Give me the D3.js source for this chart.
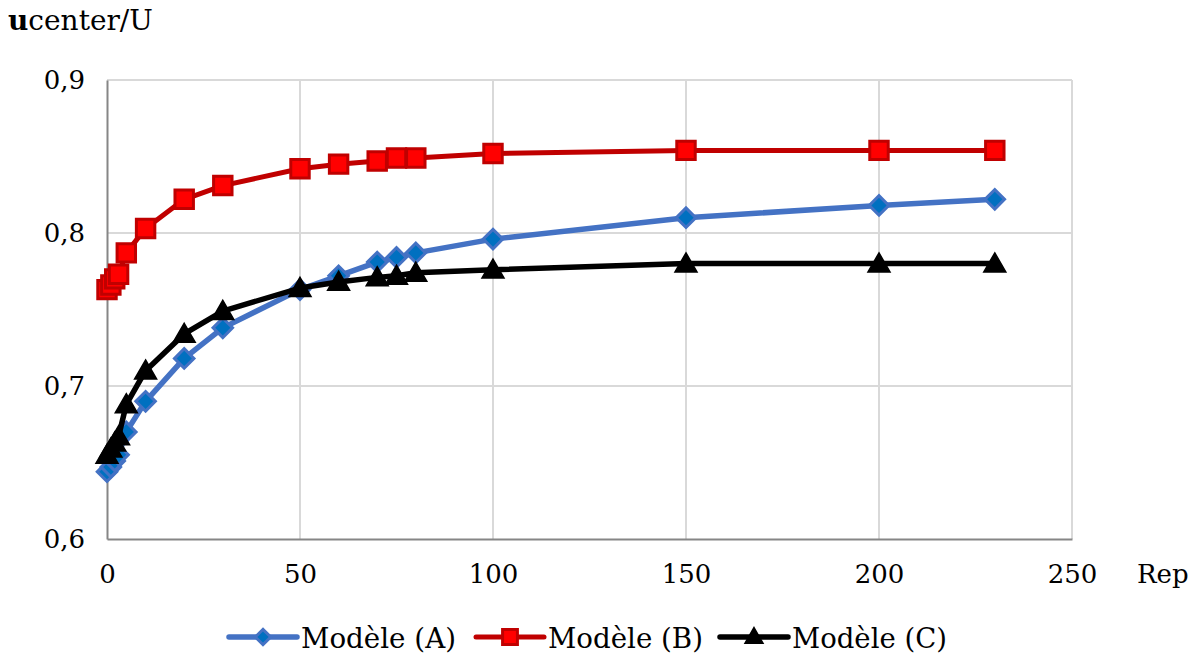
<!DOCTYPE html>
<html>
<head>
<meta charset="utf-8">
<script src="https://cdn.jsdelivr.net/npm/d3@7"></script>
<style>
  html, body { margin: 0; padding: 0; background: #fff; }
  svg { display: block; }
  text { font-family: "DejaVu Serif", serif; fill: #000; }
</style>
</head>
<body>
<svg id="chart" width="1200" height="660"></svg>
<script>
const repValues = [0, 1, 2, 3, 5, 10, 20, 30, 50, 60, 70, 75, 80, 100, 150, 200, 230];
const modeleA = [0.644, 0.647, 0.651, 0.655, 0.670, 0.690, 0.718, 0.738, 0.763, 0.772, 0.781, 0.784, 0.787, 0.796, 0.810, 0.818, 0.822];
const modeleB = [0.763, 0.766, 0.770, 0.773, 0.787, 0.803, 0.822, 0.831, 0.842, 0.845, 0.847, 0.849, 0.849, 0.852, 0.854, 0.854, 0.854];
const modeleC = [0.655, 0.659, 0.663, 0.667, 0.688, 0.710, 0.734, 0.749, 0.764, 0.768, 0.771, 0.772, 0.774, 0.776, 0.780, 0.780, 0.780];
const seriesNames = ["Modèle (A)", "Modèle (B)", "Modèle (C)"];
const xTicks = [0, 50, 100, 150, 200, 250];
const yTicks = [0.6, 0.7, 0.8, 0.9];
const yTickLabels = ["0,6", "0,7", "0,8", "0,9"];
const xAxisTitle = "Rep";
const yAxisTitleBold = "u";
const yAxisTitleRest = "center/U";

const svg = d3.select("#chart");
const x = d3.scaleLinear().domain([0, 250]).range([107, 1072]);
const y = d3.scaleLinear().domain([0.6, 0.9]).range([539, 80]);

const styles = [
  { line: "#4472c4", fill: "#0070c0", stroke: "#4472c4", sym: "diamond", lw: 5.5 },
  { line: "#c00000", fill: "#ff0000", stroke: "#c00000", sym: "square", lw: 5 },
  { line: "#000000", fill: "#000000", stroke: "#000000", sym: "triangle", lw: 5.5 }
];
const seriesData = [modeleA, modeleB, modeleC];

// gridlines
const grid = svg.append("g");
grid.selectAll(".hg").data(yTicks.filter(d => d > 0.6)).join("line")
  .attr("x1", x(0)).attr("x2", x(250))
  .attr("y1", d => y(d)).attr("y2", d => y(d))
  .attr("stroke", "#d9d9d9").attr("stroke-width", 2);
grid.selectAll(".vg").data(xTicks.filter(d => d > 0)).join("line")
  .attr("x1", d => x(d)).attr("x2", d => x(d))
  .attr("y1", y(0.9)).attr("y2", y(0.6))
  .attr("stroke", "#d9d9d9").attr("stroke-width", 2);

// axes
const xAxis = d3.axisBottom(x).tickValues(xTicks).tickSize(0).tickPadding(0).tickFormat(d3.format("d"));
const gx = svg.append("g").attr("transform", `translate(0,${y(0.6)})`).call(xAxis);
gx.select(".domain").attr("stroke", "#868686").attr("stroke-width", 2);
gx.selectAll("text").attr("font-size", 26).attr("font-family", "DejaVu Serif").attr("fill", "#000")
  .attr("dy", null).attr("y", 44);

const yAxis = d3.axisLeft(y).tickValues(yTicks).tickSize(0).tickPadding(0)
  .tickFormat((d, i) => yTickLabels[i]);
const gy = svg.append("g").attr("transform", `translate(${x(0)},0)`).call(yAxis);
gy.select(".domain").attr("stroke", "#868686").attr("stroke-width", 2);
gy.selectAll("text").attr("font-size", 26).attr("font-family", "DejaVu Serif").attr("fill", "#000")
  .attr("x", -22).attr("dy", "0.33em");

// axis titles
svg.append("text").attr("x", 1137).attr("y", 583).attr("font-size", 26).text(xAxisTitle);
const yt = svg.append("text").attr("x", 8).attr("y", 30).attr("font-size", 28);
yt.append("tspan").attr("font-weight", "bold").text(yAxisTitleBold);
yt.append("tspan").text(yAxisTitleRest);

function symPath(sym, big) {
  if (sym === "diamond") return d3.symbol().type(d3.symbolSquare).size(big ? 190 : 120)();
  if (sym === "square") return d3.symbol().type(d3.symbolSquare).size(big ? 340 : 220)();
  return d3.symbol().type(d3.symbolTriangle).size(big ? 210 : 140)();
}
function symTransform(sym) { return sym === "diamond" ? " rotate(45)" : ""; }

// series
const line = d3.line().x((d, i) => x(repValues[i])).y(d => y(d));
seriesData.forEach((vals, si) => {
  const st = styles[si];
  const g = svg.append("g");
  g.append("path").datum(vals).attr("d", line).attr("fill", "none")
    .attr("stroke", st.line).attr("stroke-width", st.lw).attr("stroke-linejoin", "round");
  g.selectAll("path.m").data(vals).join("path").attr("class", "m")
    .attr("d", symPath(st.sym, true))
    .attr("transform", (d, i) => {
      const dy = st.sym === "triangle" ? 2 : 0;
      return `translate(${x(repValues[i])},${y(d) + dy})` + symTransform(st.sym);
    })
    .attr("fill", st.fill).attr("stroke", st.stroke).attr("stroke-width", st.sym === "triangle" ? 1.5 : 3)
    .attr("stroke-linejoin", "miter");
});

// legend
const legendX = [229, 476, 720];
const legendY = 637;
seriesNames.forEach((name, si) => {
  const st = styles[si];
  const lx = legendX[si];
  const g = svg.append("g");
  g.append("line").attr("x1", lx).attr("x2", lx + 68).attr("y1", legendY).attr("y2", legendY)
    .attr("stroke", st.line).attr("stroke-width", st.lw).attr("stroke-linecap", "round");
  g.append("path").attr("d", symPath(st.sym, false))
    .attr("transform", `translate(${lx + 34},${legendY + (st.sym === "triangle" ? 1 : 0)})` + symTransform(st.sym))
    .attr("fill", st.fill).attr("stroke", st.stroke).attr("stroke-width", st.sym === "triangle" ? 1.5 : 3);
  g.append("text").attr("x", lx + 72).attr("y", legendY + 11).attr("font-size", 28)
    .attr("textLength", 155).attr("lengthAdjust", "spacingAndGlyphs").text(name);
});
</script>
</body>
</html>
